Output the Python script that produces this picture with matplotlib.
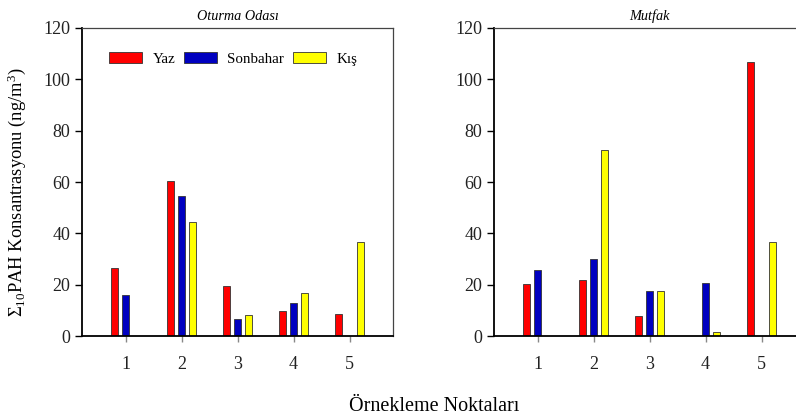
import matplotlib
matplotlib.use("Agg")
import matplotlib.pyplot as plt
import numpy as np

plt.rcParams['font.family'] = ['Liberation Serif', 'DejaVu Serif']
plt.rcParams['mathtext.fontset'] = 'custom'
plt.rcParams['mathtext.rm'] = 'Liberation Serif'
plt.rcParams['mathtext.it'] = 'Liberation Serif:italic'

points = [1, 2, 3, 4, 5]
seasons = ['Yaz', 'Sonbahar', 'Kış']
colors = ['#ff0000', '#0000c0', '#ffff00']

# Oturma Odası (living room)
oturma_yaz = [26.7, 60.4, 19.4, 9.6, 8.5]
oturma_sonbahar = [15.9, 54.6, 6.8, 12.9, 0]
oturma_kis = [0, 44.5, 8.3, 16.9, 36.7]

# Mutfak (kitchen)
mutfak_yaz = [20.3, 21.7, 7.7, 0, 106.9]
mutfak_sonbahar = [25.9, 30.2, 17.7, 20.6, 0]
mutfak_kis = [0, 72.4, 17.7, 1.6, 36.7]

fig = plt.figure(figsize=(7.96, 4.17), dpi=100)
ax1 = fig.add_axes([0.103, 0.194, 0.391, 0.739])
ax2 = fig.add_axes([0.6206, 0.194, 0.391, 0.739])

x = np.array(points)
offsets = [-0.2, 0.0, 0.2]
width = 0.13

for ax, series, title in [(ax1, [oturma_yaz, oturma_sonbahar, oturma_kis], 'Oturma Odası'),
                          (ax2, [mutfak_yaz, mutfak_sonbahar, mutfak_kis], 'Mutfak')]:
    for vals, off, c, lab in zip(series, offsets, colors, seasons):
        v = np.array(vals, dtype=float)
        mask = v > 0
        ax.bar(x[mask] + off, v[mask], width=width, color=c, edgecolor='#333333',
               linewidth=0.6, label=lab)
    ax.set_xlim(0.22, 5.78)
    ax.set_ylim(0, 120)
    ax.set_xticks(points)
    ax.set_yticks(range(0, 121, 20))
    ax.tick_params(axis='both', direction='out', labelsize=13, length=5, width=1,
                   labelcolor='#222222')
    ax.tick_params(axis='x', length=4, color='#888888', pad=10)
    ax.set_title(title, fontsize=10.3, style='italic', pad=6)
    for s in ['left', 'bottom']:
        ax.spines[s].set_linewidth(1.3)
    for s in ['top', 'right']:
        ax.spines[s].set_linewidth(0.9)
        ax.spines[s].set_color('#444444')

leg = ax1.legend(loc='upper left', bbox_to_anchor=(0.045, 0.965), ncol=3, frameon=False,
                 fontsize=10.8, handlelength=2.2, handleheight=0.7, columnspacing=0.55,
                 handletextpad=0.7)

ax1.set_ylabel('Σ$_{10}$PAH Konsantrasyonu (ng/m$^{3}$)', fontsize=13.3)
ax1.yaxis.set_label_coords(-0.172, 0.468)
fig.text(0.546, 0.026, 'Örnekleme Noktaları', ha='center', va='center', fontsize=14.5)

plt.savefig('out.png', dpi=100)
